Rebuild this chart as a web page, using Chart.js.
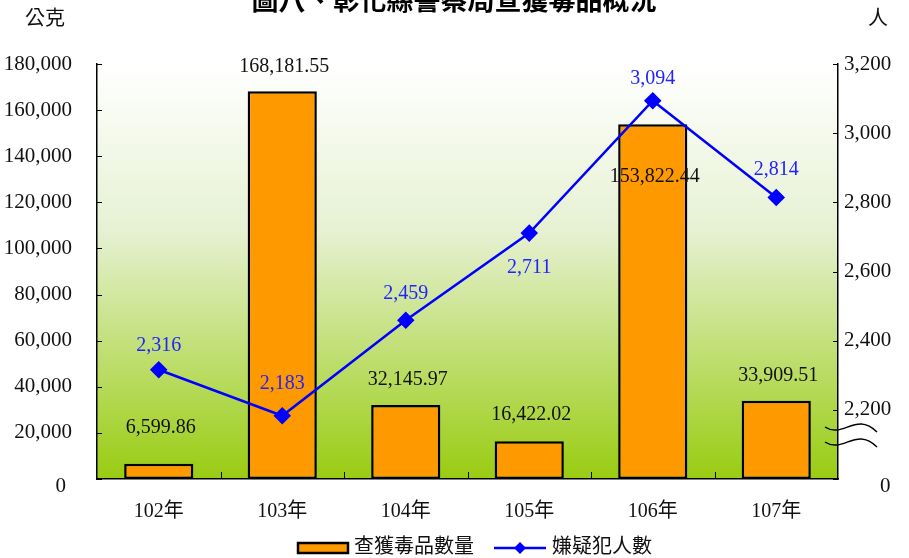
<!DOCTYPE html>
<html lang="zh-Hant">
<head>
<meta charset="UTF-8">
<title>圖八、彰化縣警察局查獲毒品概況</title>
<script src="https://cdn.jsdelivr.net/npm/chart.js"></script>
<style>
  html, body { margin: 0; padding: 0; background: #fff; }
  #wrap { width: 909px; height: 558px; }
</style>
</head>
<body>
<div id="wrap"><canvas id="myChart"></canvas></div>
<script>
// data
const years = ['102年', '103年', '104年', '105年', '106年', '107年'];
const drugWeight = [6599.86, 168181.55, 32145.97, 16422.02, 153822.44, 33909.51];
const suspects = [2316, 2183, 2459, 2711, 3094, 2814];
const leftTicks = [0, 20000, 40000, 60000, 80000, 100000, 120000, 140000, 160000, 180000];
const rightTicks = [2000, 2200, 2400, 2600, 2800, 3000, 3200];

const SERIF = "'Liberation Serif', 'Noto Sans CJK TC', serif";
const fmt = (v, d) => v.toLocaleString('en-US', {minimumFractionDigits: d, maximumFractionDigits: d});

// label offsets (px, negative = up)
const barLabelDy = [-36, -24, -25, -26, 52, -25];
const lineLabelDy = [-24, -32, -27, 35, -22, -28];

const decor = {
  id: 'decor',
  beforeDraw(chart) {
    const {ctx, chartArea: a} = chart;
    const g = ctx.createLinearGradient(0, a.top, 0, a.bottom);
    g.addColorStop(0, '#ffffff');
    g.addColorStop(0.4, '#e6f1d3');
    g.addColorStop(1, '#99cc11');
    ctx.save();
    ctx.fillStyle = g;
    ctx.fillRect(a.left, a.top, a.right - a.left, a.bottom - a.top);
    ctx.restore();
  },
  afterDraw(chart) {
    const {ctx, chartArea: a, scales} = chart;
    ctx.save();
    // inner ticks
    ctx.strokeStyle = '#000';
    ctx.lineWidth = 1;
    leftTicks.forEach(v => {
      const y = Math.round(scales.y.getPixelForValue(v)) + 0.5;
      ctx.beginPath(); ctx.moveTo(a.left, y); ctx.lineTo(a.left + 5, y); ctx.stroke();
    });
    rightTicks.forEach(v => {
      const y = Math.round(scales.y1.getPixelForValue(v)) + 0.5;
      ctx.beginPath(); ctx.moveTo(a.right, y); ctx.lineTo(a.right - 5, y); ctx.stroke();
    });
    const cw = (a.right - a.left) / years.length;
    for (let i = 1; i < years.length; i++) {
      const x = Math.round(a.left + cw * i) + 0.5;
      ctx.beginPath(); ctx.moveTo(x, a.bottom); ctx.lineTo(x, a.bottom - 7); ctx.stroke();
    }
    // axis break marks on right axis
    ctx.lineWidth = 1.5;
    [427, 442].forEach(y0 => {
      ctx.beginPath();
      ctx.moveTo(a.right - 13, y0);
      ctx.bezierCurveTo(a.right + 5, y0 + 12, a.right + 18, y0 - 16, a.right + 39, y0 + 5);
      ctx.stroke();
    });

    // bar value labels
    ctx.font = '20px ' + SERIF;
    ctx.textAlign = 'center';
    ctx.textBaseline = 'middle';
    ctx.fillStyle = '#111';
    chart.getDatasetMeta(0).data.forEach((el, i) => {
      ctx.fillText(fmt(drugWeight[i], 2), el.x + 2, el.y + barLabelDy[i]);
    });
    ctx.fillStyle = '#2222ff';
    chart.getDatasetMeta(1).data.forEach((el, i) => {
      ctx.fillText(fmt(suspects[i], 0), el.x, el.y + lineLabelDy[i]);
    });

    // zero labels sit a little below the axis
    ctx.fillStyle = '#111';
    ctx.font = '21px ' + SERIF;
    ctx.textAlign = 'right';
    ctx.fillText('0', a.left - 31, a.bottom + 7);
    ctx.textAlign = 'left';
    ctx.fillText('0', a.right + 42, a.bottom + 7);

    // title (cut off at top)
    ctx.textAlign = 'center';
    ctx.fillStyle = '#000';
    ctx.font = "bold 27px 'Noto Sans CJK TC', sans-serif";
    ctx.fillText('圖八、彰化縣警察局查獲毒品概況', 454, 0);

    // axis units
    ctx.font = '20px ' + SERIF;
    ctx.fillStyle = '#111';
    ctx.fillText('公克', 45, 20);
    ctx.fillText('人', 878, 20);

    // legend
    const ly = 548;
    ctx.fillStyle = '#ff9900';
    ctx.strokeStyle = '#000';
    ctx.lineWidth = 2.5;
    ctx.fillRect(298, ly - 5, 50, 10);
    ctx.strokeRect(298, ly - 5, 50, 10);
    ctx.fillStyle = '#111';
    ctx.textAlign = 'left';
    ctx.fillText('查獲毒品數量', 354, ly);
    ctx.strokeStyle = '#0000ff';
    ctx.lineWidth = 2.5;
    ctx.beginPath(); ctx.moveTo(494, ly); ctx.lineTo(546, ly); ctx.stroke();
    ctx.fillStyle = '#0000ff';
    ctx.beginPath();
    ctx.moveTo(520, ly - 6); ctx.lineTo(526, ly); ctx.lineTo(520, ly + 6); ctx.lineTo(514, ly);
    ctx.closePath(); ctx.fill();
    ctx.fillStyle = '#111';
    ctx.fillText('嫌疑犯人數', 552, ly);
    ctx.restore();
  }
};

new Chart(document.getElementById('myChart'), {
  data: {
    labels: years,
    datasets: [{
      type: 'bar',
      label: '查獲毒品數量',
      data: drugWeight,
      yAxisID: 'y',
      backgroundColor: '#ff9900',
      borderColor: '#000',
      borderWidth: 2.5,
      borderSkipped: false,
      barPercentage: 0.56,
      categoryPercentage: 1,
      order: 2
    }, {
      type: 'line',
      label: '嫌疑犯人數',
      data: suspects,
      yAxisID: 'y1',
      borderColor: '#0000ff',
      backgroundColor: '#0000ff',
      borderWidth: 2.5,
      pointStyle: 'rectRot',
      pointRadius: 7,
      pointHoverRadius: 7,
      tension: 0,
      order: 1
    }]
  },
  options: {
    responsive: true,
    maintainAspectRatio: false,
    animation: false,
    layout: { padding: { top: 64, left: 0, right: 0, bottom: 0 } },
    plugins: { legend: { display: false }, tooltip: { enabled: false }, title: { display: false } },
    scales: {
      x: {
        grid: { display: false },
        border: { display: true, color: '#000', width: 1.5 },
        ticks: { color: '#111', font: { family: SERIF, size: 20 }, padding: 13 },
        afterFit(s) { s.height = 79; }
      },
      y: {
        position: 'left',
        min: 0, max: 180000,
        grid: { display: false },
        border: { display: true, color: '#000', width: 1.5 },
        ticks: {
          stepSize: 20000,
          color: '#111',
          font: { family: SERIF, size: 21 },
          padding: 17,
          callback: v => v === 0 ? '' : v.toLocaleString('en-US')
        },
        afterFit(s) { s.width = 97; }
      },
      y1: {
        position: 'right',
        min: 2000, max: 3200,
        grid: { display: false },
        border: { display: true, color: '#000', width: 1.5 },
        ticks: {
          stepSize: 200,
          color: '#111',
          font: { family: SERIF, size: 21 },
          padding: -2,
          callback: v => v === 2000 ? '' : v.toLocaleString('en-US')
        },
        afterFit(s) { s.width = 71; }
      }
    }
  },
  plugins: [decor]
});
</script>
</body>
</html>
